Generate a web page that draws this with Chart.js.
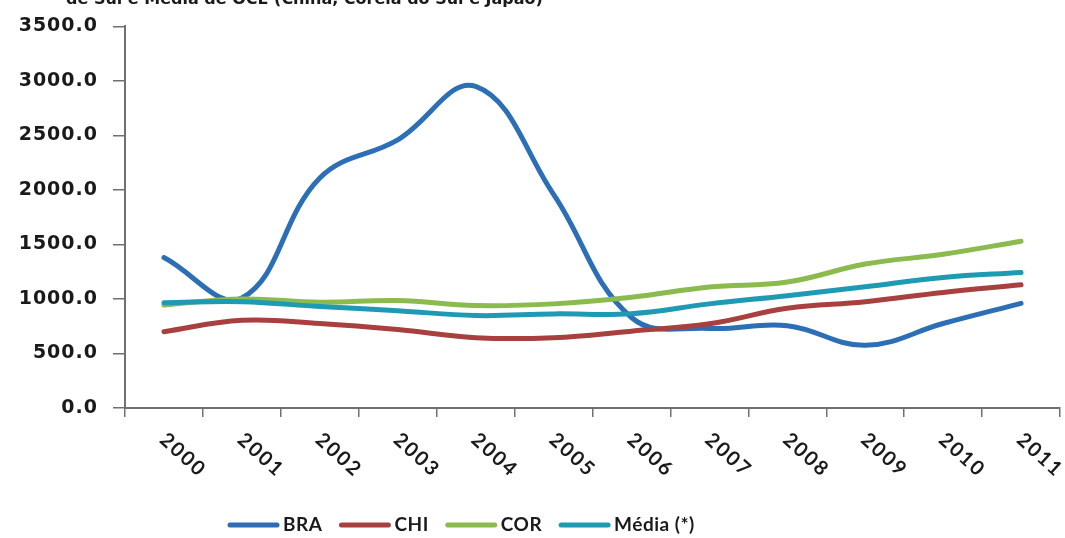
<!DOCTYPE html>
<html lang="pt">
<head>
<meta charset="utf-8">
<title>BRA, CHI, COR e Média(*)</title>
<script src="https://cdn.jsdelivr.net/npm/chart.js@4.4.1/dist/chart.umd.min.js"></script>
<style>
  html, body { margin: 0; padding: 0; background: #ffffff; }
  #wrap { width: 1065px; height: 538px; }
</style>
</head>
<body>
<div id="wrap"><canvas id="chart" width="1065" height="538"></canvas></div>
<script>
// Anos (eixo X)
const years = ['2000', '2001', '2002', '2003', '2004', '2005', '2006', '2007', '2008', '2009', '2010', '2011'];

// Séries
const bra = [1380, 1010, 2110, 2460, 2950, 1960, 830, 730, 755, 575, 775, 960];
const chi = [700, 805, 775, 720, 645, 645, 705, 772, 915, 975, 1060, 1130];
const cor = [945, 1000, 970, 985, 940, 955, 1015, 1110, 1155, 1320, 1410, 1530];
const media = [965, 975, 930, 893, 848, 863, 865, 955, 1030, 1112, 1197, 1243];

const seriesNames = ['BRA', 'CHI', 'COR', 'Média (*)'];
const seriesColors = ['#2C6FB7', '#A8403F', '#8BBA4F', '#1F9AB4'];

// Eixo Y
const yMin = 0, yMax = 3500, yStep = 500;

const titleText = 'de Sul e Média de OCE (China, Coreia do Sul e Japão)';

const axisColor = '#707070';
const textColor = '#1a1a1a';

function makeSet(label, data, color, order) {
  return {
    label: label,
    data: data,
    borderColor: color,
    backgroundColor: color,
    borderWidth: 5,
    tension: 0.4,
    pointRadius: 0,
    pointHoverRadius: 0,
    borderCapStyle: 'round',
    borderJoinStyle: 'round',
    fill: false,
    order: order
  };
}

// Texto das marcas do eixo Y com espaçamento entre letras
const spacingPlugin = {
  id: 'tickSpacing',
  beforeDraw(chart) {
    chart.ctx.letterSpacing = '1px';
  }
};

// Título (cortado no topo), rótulos inclinados do eixo X e legenda
const decorPlugin = {
  id: 'decor',
  afterDraw(chart) {
    const ctx = chart.ctx;
    const xs = chart.scales.x;
    const bottom = chart.chartArea.bottom;

    ctx.save();
    ctx.letterSpacing = '0px';
    ctx.fillStyle = textColor;
    ctx.font = 'bold 16px "DejaVu Sans"';
    ctx.textAlign = 'left';
    ctx.textBaseline = 'alphabetic';
    ctx.fillText(titleText, 66, 4);
    ctx.restore();

    // rótulos do eixo X
    ctx.save();
    ctx.fillStyle = textColor;
    ctx.font = 'bold 20px Lato';
    ctx.letterSpacing = '2px';
    ctx.textAlign = 'center';
    ctx.textBaseline = 'middle';
    years.forEach((yr, i) => {
      const px = xs.getPixelForValue(i);
      ctx.save();
      ctx.translate(px + 19, bottom + 47);
      ctx.rotate(42 * Math.PI / 180);
      ctx.fillText(yr, 0, 0);
      ctx.restore();
    });
    ctx.restore();

    // legenda
    ctx.save();
    ctx.letterSpacing = '0.5px';
    ctx.font = 'bold 19px Lato';
    ctx.textAlign = 'left';
    ctx.textBaseline = 'middle';
    let lx = 230;
    const ly = 525;
    chart.data.datasets.forEach(ds => {
      ctx.strokeStyle = ds.borderColor;
      ctx.lineWidth = 5;
      ctx.lineCap = 'round';
      ctx.beginPath();
      ctx.moveTo(lx, ly);
      ctx.lineTo(lx + 47, ly);
      ctx.stroke();
      ctx.fillStyle = textColor;
      ctx.fillText(ds.label, lx + 53, ly);
      lx += 53 + ctx.measureText(ds.label).width + 19;
    });
    ctx.restore();
  }
};

new Chart(document.getElementById('chart'), {
  type: 'line',
  data: {
    labels: years,
    datasets: [
      makeSet(seriesNames[0], bra, seriesColors[0], 3),
      makeSet(seriesNames[1], chi, seriesColors[1], 2),
      makeSet(seriesNames[2], cor, seriesColors[2], 1),
      makeSet(seriesNames[3], media, seriesColors[3], 0)
    ]
  },
  options: {
    responsive: false,
    devicePixelRatio: 1,
    animation: false,
    layout: { padding: { top: 24, right: 5, left: 0, bottom: 0 } },
    plugins: {
      legend: { display: false },
      title: { display: false },
      tooltip: { enabled: false }
    },
    scales: {
      x: {
        type: 'category',
        offset: true,
        grid: {
          display: true,
          offset: true,
          drawOnChartArea: false,
          drawTicks: true,
          tickLength: 9,
          color: axisColor,
          lineWidth: 1.5
        },
        border: { display: true, color: axisColor, width: 2 },
        ticks: { display: false },
        afterFit(scale) { scale.height = 130; }
      },
      y: {
        min: yMin,
        max: yMax,
        ticks: {
          stepSize: yStep,
          padding: 15,
          color: textColor,
          font: { family: '"DejaVu Sans"', size: 19, weight: 'bold' },
          callback: v => Number(v).toFixed(1)
        },
        grid: {
          display: true,
          drawOnChartArea: false,
          drawTicks: true,
          tickLength: 12,
          color: axisColor,
          lineWidth: 1.5
        },
        border: { display: true, color: axisColor, width: 2 },
        afterFit(scale) { scale.width = 125; }
      }
    }
  },
  plugins: [spacingPlugin, decorPlugin]
});
</script>
</body>
</html>
